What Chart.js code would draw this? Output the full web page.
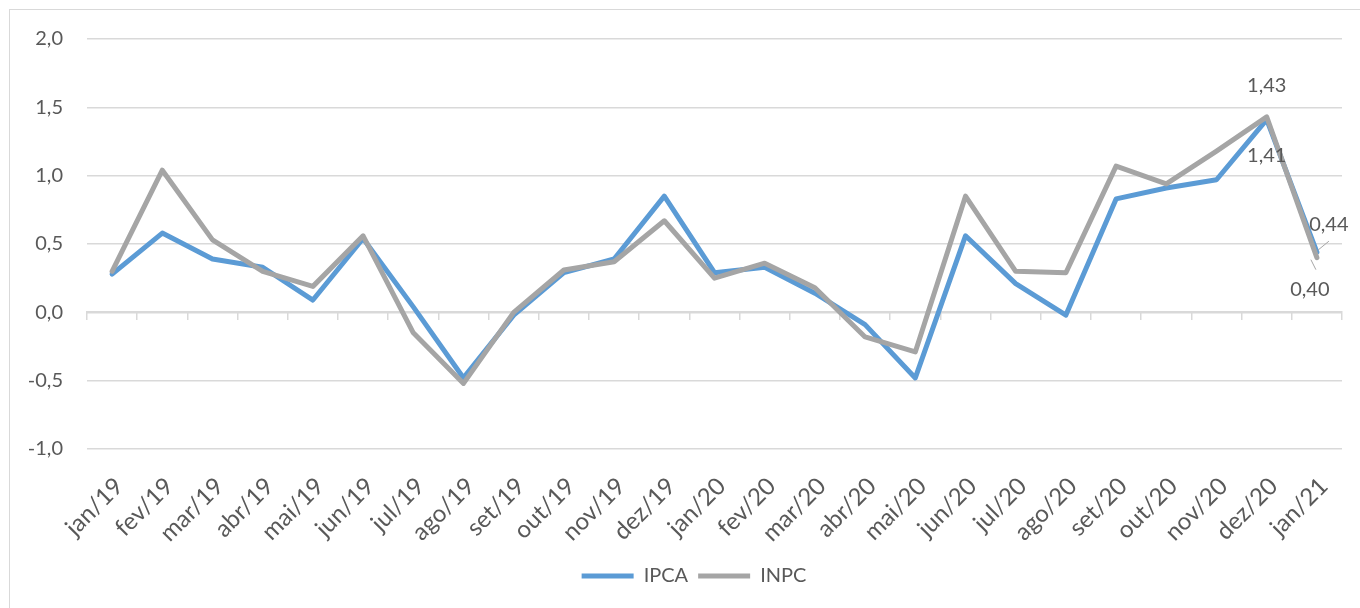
<!DOCTYPE html>
<html>
<head>
<meta charset="utf-8">
<script src="https://cdn.jsdelivr.net/npm/chart.js@4"></script>
<style>
  html, body { margin: 0; padding: 0; background: #fff; overflow: hidden; }
  #frame {
    position: absolute; left: 9px; top: 9px;
    width: 1400px; height: 640px;
    border: 1.5px solid #d9d9d9; box-sizing: border-box;
  }
  #wrap { position: absolute; left: 10px; top: 10px; width: 1368px; height: 598px; }
</style>
</head>
<body>
<div id="frame"></div>
<div id="wrap"><canvas id="inflChart"></canvas></div>
<script>
const months = ['jan/19', 'fev/19', 'mar/19', 'abr/19', 'mai/19', 'jun/19', 'jul/19', 'ago/19', 'set/19',
    'out/19', 'nov/19', 'dez/19', 'jan/20', 'fev/20', 'mar/20', 'abr/20', 'mai/20', 'jun/20', 'jul/20',
    'ago/20', 'set/20', 'out/20', 'nov/20', 'dez/20', 'jan/21'];
const ipca = [0.28, 0.58, 0.39, 0.33, 0.09, 0.54, 0.04, -0.48, -0.02, 0.29, 0.39, 0.85, 0.29, 0.33, 0.14,
    -0.09, -0.48, 0.56, 0.21, -0.02, 0.83, 0.91, 0.97, 1.41, 0.44];
const inpc = [0.30, 1.04, 0.53, 0.30, 0.19, 0.56, -0.15, -0.52, 0.00, 0.31, 0.37, 0.67, 0.25, 0.36, 0.18,
    -0.18, -0.29, 0.85, 0.30, 0.29, 1.07, 0.94, 1.18, 1.43, 0.40];
const yTicks = [-1.0, -0.5, 0.0, 0.5, 1.0, 1.5, 2.0];
// which points get a value label (last two months)
const labelledPoints = [23, 24];

const fmt = (v, d) => v.toFixed(d).replace('.', ',');
const textColor = '#595959';
const gridColor = '#d9d9d9';
const font = { family: 'Lato', size: 20 };
const xFont = { family: 'Lato', size: 24 };

// offsets of the value labels, per dataset and point: [dx, dy, leader line?]
const labelOffsets = {
    0: { 23: [0, 36, false], 24: [12, -28, true] },
    1: { 23: [0, -31, false], 24: [-7, 32, true] },
};

const valueLabels = {
    id: 'valueLabels',
    afterDatasetsDraw(chart) {
        const { ctx } = chart;
        const xs = chart.scales.x, ys = chart.scales.y;
        ctx.save();
        ctx.font = `${font.size}px ${font.family}`;
        ctx.fillStyle = textColor;
        ctx.textAlign = 'center';
        ctx.textBaseline = 'middle';
        chart.data.datasets.forEach((ds, di) => {
            labelledPoints.forEach(i => {
                const px = xs.getPixelForValue(i);
                const py = ys.getPixelForValue(ds.data[i]);
                const [dx, dy, leader] = labelOffsets[di][i];
                ctx.fillText(fmt(ds.data[i], 2), px + dx, py + dy);
                if (leader) {
                    ctx.strokeStyle = '#a6a6a6';
                    ctx.lineWidth = 1;
                    ctx.beginPath();
                    const s = Math.sign(dy);
                    ctx.moveTo(px + (dx > 0 ? 1 : -6), py + s * 2);
                    ctx.lineTo(px + (dx > 0 ? 12 : -1), py + s * (dx > 0 ? 11 : 12));
                    ctx.stroke();
                }
            });
        });
        ctx.restore();
    }
};

new Chart(document.getElementById('inflChart'), {
    type: 'line',
    data: {
        labels: months,
        datasets: [
            {
                label: 'IPCA',
                data: ipca,
                borderColor: '#5b9bd5',
                backgroundColor: '#5b9bd5',
                pointBorderColor: '#5b9bd5',
                pointBorderWidth: 5,
                order: 2,
            },
            {
                label: 'INPC',
                data: inpc,
                borderColor: '#a5a5a5',
                backgroundColor: '#a5a5a5',
                pointBorderColor: '#a5a5a5',
                pointBorderWidth: 5,
                order: 1,
            },
        ],
    },
    options: {
        responsive: true,
        maintainAspectRatio: false,
        animation: false,
        layout: { padding: { top: 29, right: 0, left: 0, bottom: 12 } },
        elements: {
            line: { borderWidth: 5, tension: 0, borderJoinStyle: 'round', borderCapStyle: 'round' },
            point: { radius: 0, hoverRadius: 0 },
        },
        plugins: {
            tooltip: { enabled: false },
            legend: {
                position: 'bottom',
                labels: {
                    usePointStyle: true,
                    pointStyle: 'line',
                    pointStyleWidth: 52,
                    color: textColor,
                    font: font,
                    padding: 10,
                    sort: (a, b) => a.datasetIndex - b.datasetIndex,
                },
            },
        },
        scales: {
            x: {
                offset: true,
                grid: { display: false, drawTicks: false },
                border: { display: false },
                ticks: {
                    color: textColor,
                    font: xFont,
                    autoSkip: false,
                    minRotation: 45,
                    maxRotation: 45,
                    padding: 23,
                    labelOffset: 7,
                },
                afterFit(scale) { scale.height = 107; },
            },
            xZero: {
                type: 'category',
                position: { y: 0 },
                offset: true,
                grid: { offset: true, drawOnChartArea: false, drawTicks: true, tickLength: 7, color: gridColor, lineWidth: 1.5 },
                border: { color: gridColor, width: 2 },
                ticks: { display: false },
            },
            y: {
                min: -1,
                max: 2,
                afterBuildTicks(scale) { scale.ticks = yTicks.map(v => ({ value: v })); },
                grid: { color: gridColor, lineWidth: 1.5, drawTicks: true, tickLength: 24, tickColor: 'transparent' },
                border: { display: false },
                ticks: {
                    color: textColor,
                    font: font,
                    padding: 0,
                    callback: v => fmt(v, 1),
                },
                afterFit(scale) { scale.width = 77; },
            },
            // empty right-hand axis: keeps the plot clear of the extra room on the right
            yRight: {
                type: 'linear',
                position: 'right',
                grid: { display: false, drawTicks: false },
                border: { display: false },
                ticks: { display: false },
                afterFit(scale) { scale.width = 36; },
            },
        },
    },
    plugins: [valueLabels],
});
</script>
</body>
</html>
